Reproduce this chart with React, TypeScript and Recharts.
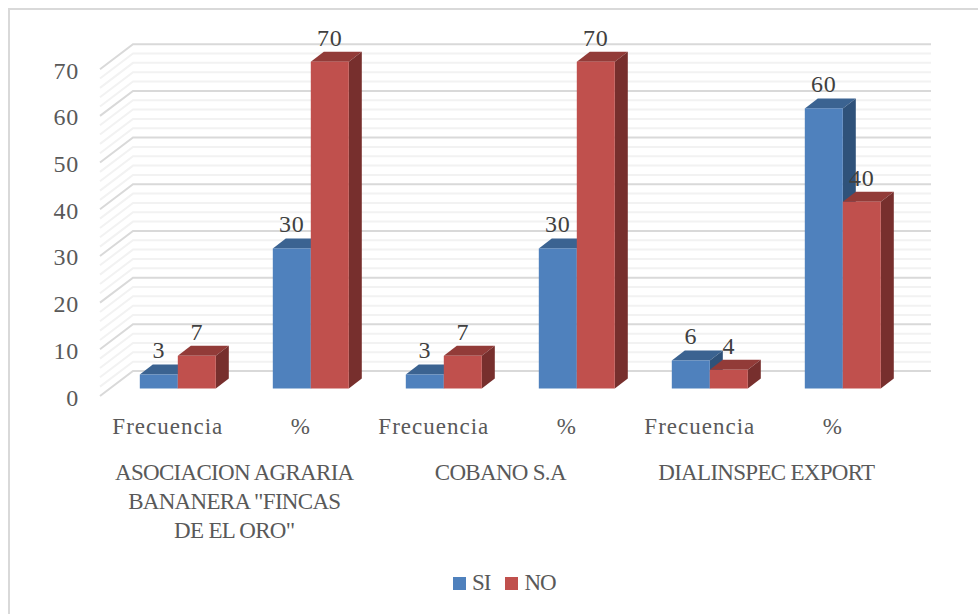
import React from "react";
import { BarChart, Bar, XAxis, YAxis, CartesianGrid, Legend, LabelList } from "recharts";

const categories = ["Frecuencia", "%", "Frecuencia", "%", "Frecuencia", "%"];
const groupLabels = [
  ["ASOCIACION AGRARIA", 'BANANERA "FINCAS', 'DE EL ORO"'],
  ["COBANO S.A"],
  ["DIALINSPEC EXPORT"],
];
const siValues = [3, 30, 3, 30, 6, 60];
const noValues = [7, 70, 7, 70, 4, 40];
const yTicks = [0,2,4,6,8,10,12,14,16,18,20,22,24,26,28,30,32,34,36,38,40,42,44,46,48,50,52,54,56,58,60,62,64,66,68,70];

const data = categories.map((c, i) => ({ id: i, cat: c, SI: siValues[i], NO: noValues[i] }));

const FONT = '"Liberation Serif", serif';
const TEXT = "#595959";
const DX = 13;
const DY = 10;
const WALL_FRONT_X = 100;
const WALL_BACK_X = 133;
const WALL_BACK_RIGHT = 931;

const GridLine = (p: any) => {
  const major = p.index % 5 === 0;
  const y = p.y1;
  return (
    <path
      key={p.key}
      d={`M${WALL_FRONT_X},${y + 7.5} L${WALL_BACK_X},${y - 17.5} L${WALL_BACK_RIGHT},${y - 17.5}`}
      fill="none"
      stroke={major ? "#d9d9d9" : "#f2f2f2"}
      strokeWidth={2}
    />
  );
};

const box = (front: string, top: string, side: string) => (p: any) => {
  const { x, y, width: w, height: h } = p;
  return (
    <g>
      <polygon points={`${x},${y} ${x + DX},${y - DY} ${x + w + DX},${y - DY} ${x + w},${y}`} fill={top} />
      <polygon points={`${x + w},${y} ${x + w + DX},${y - DY} ${x + w + DX},${y + h - DY} ${x + w},${y + h}`} fill={side} />
      <rect x={x} y={y} width={w} height={h} fill={front} />
    </g>
  );
};

const YTick = (p: any) => {
  if (p.payload.value % 10 !== 0) return <g />;
  return (
    <text x={79} y={p.y + 17} textAnchor="end" fontFamily={FONT} fontSize={24} letterSpacing={0.8} fill={TEXT}>
      {p.payload.value}
    </text>
  );
};

const XTick = (p: any) => {
  const i = p.index;
  const x = p.x - 9.5;
  const group = i % 2 === 0 ? groupLabels[i / 2] : null;
  return (
    <g fontFamily={FONT} fontSize={23} fill={TEXT} textAnchor="middle">
      <text x={x} y={434} letterSpacing={1}>{categories[i]}</text>
      {group &&
        group.map((line, k) => (
          <text key={k} x={x + 66.5} y={480 + k * 29} letterSpacing={-0.7}>{line}</text>
        ))}
    </g>
  );
};

const ValueLabel = (p: any) => (
  <text x={p.x + p.width / 2} y={p.y - 16} textAnchor="middle" fontFamily={FONT} fontSize={24} letterSpacing={0.8} fill="#404040">
    {p.value}
  </text>
);

const LegendContent = (p: any) => (
  <div style={{ display: "flex", fontFamily: FONT, fontSize: 23, letterSpacing: -1, color: TEXT, lineHeight: "26px" }}>
    {(p.payload || []).map((e: any, i: number) => (
      <div key={i} style={{ display: "flex", alignItems: "center", marginRight: 15 }}>
        <span style={{ width: 13, height: 13, background: e.color, display: "inline-block", marginRight: 6 }} />
        <span>{e.value}</span>
      </div>
    ))}
  </div>
);

export default function App() {
  return (
    <div style={{ position: "absolute", left: 0, top: 0, width: 978, height: 614, overflow: "hidden", background: "#fff" }}>
      <div style={{ position: "absolute", left: 8, top: 8, width: 1100, height: 800, border: "2px solid #d9d9d9" }} />
      <div style={{ position: "absolute", left: 0, top: 0 }}>
        <BarChart
          width={978}
          height={614}
          data={data}
          barGap={0}
          margin={{ top: 61.7, right: 69.2, bottom: 0, left: 0 }}
        >
          <CartesianGrid vertical={false} horizontal={GridLine as any} />
          <XAxis dataKey="id" type="category" height={225.5} axisLine={false} tickLine={false} interval={0} tick={XTick as any} />
          <YAxis
            width={110.8}
            type="number"
            domain={[0, 70]}
            ticks={yTicks}
            interval={0}
            axisLine={false}
            tickLine={false}
            tick={YTick as any}
          />
          <Legend
            layout="horizontal"
            verticalAlign="middle"
            align="center"
            itemSorter={null as any}
            content={LegendContent as any}
            wrapperStyle={{ position: "absolute", left: 453, top: 570, width: 200, height: 26 }}
          />
          <Bar dataKey="SI" name="SI" fill="#4f81bd" barSize={38} isAnimationActive={false} shape={box("#4f81bd", "#3b6391", "#2f527a") as any}>
            <LabelList dataKey="SI" content={ValueLabel as any} />
          </Bar>
          <Bar dataKey="NO" name="NO" fill="#c0504d" barSize={38} isAnimationActive={false} shape={box("#c0504d", "#923b38", "#772f2d") as any}>
            <LabelList dataKey="NO" content={ValueLabel as any} />
          </Bar>
        </BarChart>
      </div>
    </div>
  );
}
